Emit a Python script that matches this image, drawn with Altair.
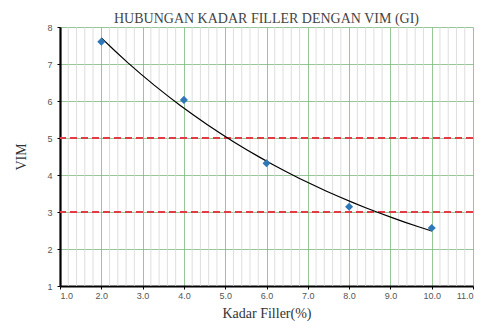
import altair as alt
import pandas as pd

filler = [2.0, 4.0, 6.0, 8.0, 10.0]
vim = [7.6, 6.03, 4.32, 3.14, 2.57]
limits = [5, 3]
x_ticks = [1.0, 2.0, 3.0, 4.0, 5.0, 6.0, 7.0, 8.0, 9.0, 10.0, 11.0]
x_minor = [1.2, 1.4, 1.6, 1.8, 2.2, 2.4, 2.6, 2.8, 3.2, 3.4, 3.6, 3.8, 4.2, 4.4, 4.6, 4.8,
           5.2, 5.4, 5.6, 5.8, 6.2, 6.4, 6.6, 6.8, 7.2, 7.4, 7.6, 7.8, 8.2, 8.4, 8.6, 8.8,
           9.2, 9.4, 9.6, 9.8, 10.2, 10.4, 10.6, 10.8]
y_ticks = [1, 2, 3, 4, 5, 6, 7, 8]

df = pd.DataFrame({"filler": filler, "vim": vim})
lim_df = pd.DataFrame({"vim": limits})
minor_df = pd.DataFrame({"filler": x_minor})

xscale = alt.Scale(domain=[1, 11], nice=False, zero=False)
yscale = alt.Scale(domain=[1, 8], nice=False, zero=False)

x_axis = alt.Axis(values=x_ticks, format=".1f", grid=True, gridColor="#7cb87c",
                  gridWidth=0.8, domainColor="black", domainWidth=2.2,
                  tickColor="black", tickSize=3, tickWidth=1,
                  labelFont="Liberation Sans", labelFontSize=9, labelColor="#555",
                  labelPadding=2,
                  title="Kadar Filler(%)", titleFont="Liberation Serif",
                  titleFontSize=14, titleFontWeight="normal", titleColor="#333",
                  titlePadding=6)
y_axis = alt.Axis(values=y_ticks, grid=True, gridColor="#7cb87c", gridWidth=0.8,
                  domainColor="black", domainWidth=2.2,
                  tickColor="black", tickSize=3, tickWidth=1,
                  labelFont="Liberation Sans", labelFontSize=9, labelColor="#555",
                  labelPadding=5,
                  title="VIM", titleFont="Liberation Serif", titleFontSize=14,
                  titleFontWeight="normal", titleColor="#333", titlePadding=18)

x_enc = alt.X("filler:Q", scale=xscale, axis=x_axis)
y_enc = alt.Y("vim:Q", scale=yscale, axis=y_axis)

minor = alt.Chart(minor_df).mark_rule(color="#d6d6d6", strokeWidth=0.8).encode(x=x_enc)

pts = alt.Chart(df).mark_point(shape="diamond", filled=True, size=65, color="#2f78b8",
                               opacity=1).encode(x=x_enc, y=y_enc)

trend = alt.Chart(df).transform_regression("filler", "vim", method="exp").mark_line(
    color="black", strokeWidth=1.2).encode(x=x_enc, y=y_enc)

rules = alt.Chart(lim_df).mark_rule(color="#e23b43", strokeWidth=2, strokeDash=[7, 4]).encode(
    y=y_enc)

chart = alt.layer(minor, rules, trend, pts).properties(
    width=413, height=259,
    title=alt.TitleParams("HUBUNGAN KADAR FILLER DENGAN VIM (GI)", font="Liberation Serif",
                          fontSize=14, fontWeight="normal", color="#444", anchor="middle",
                          offset=5, dy=8),
    autosize=alt.AutoSizeParams(type="none"),
    padding={"left": 52, "top": 19, "right": 3, "bottom": 36},
).configure_view(stroke=None)

chart.save("out.html", embed_options={"renderer": "svg", "actions": False})
